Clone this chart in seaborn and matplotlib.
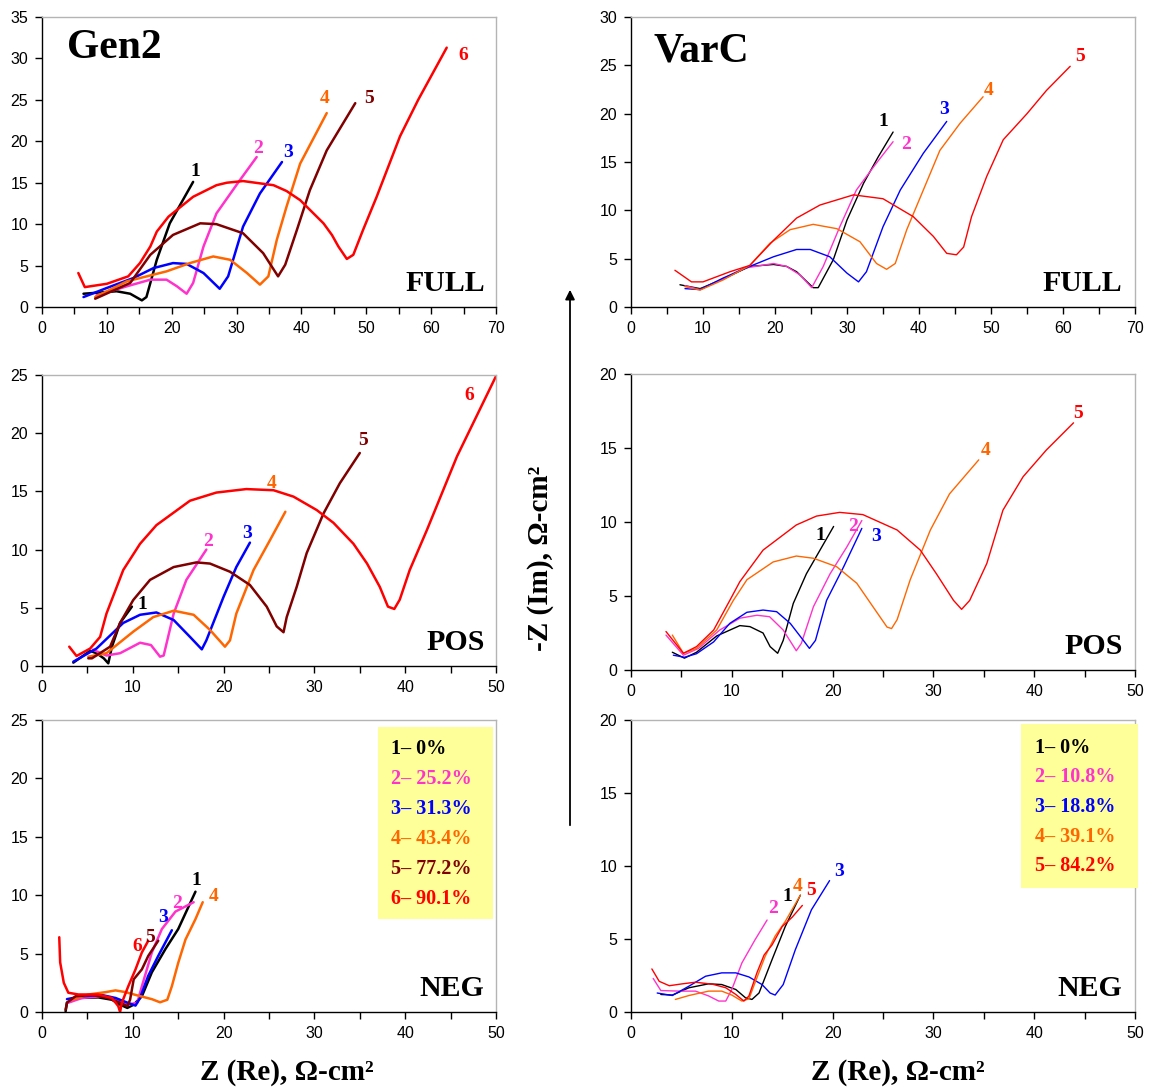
import numpy as np
import pandas as pd
import matplotlib
matplotlib.use("Agg")
import matplotlib.pyplot as plt
import seaborn as sns
from matplotlib.patches import Rectangle, FancyArrowPatch

# ---------------- data: Gen2 FULL ----------------
g2f_1_x = [6.4, 11.5, 13.6, 15.4, 16.1, 17.7, 19.7, 23.3]
g2f_1_y = [1.6, 1.9, 1.6, 0.8, 1.2, 5.7, 10.1, 15.1]
g2f_2_x = [8.4, 13.1, 16.7, 19.2, 20.8, 22.3, 23.3, 24.9, 26.9, 30.5, 33.1]
g2f_2_y = [1.4, 2.5, 3.3, 3.3, 2.5, 1.6, 2.9, 7.3, 11.3, 15.3, 18.1]
g2f_3_x = [6.4, 10.0, 14.1, 17.2, 20.2, 22.3, 24.9, 27.4, 28.7, 31.0, 33.6, 37.0]
g2f_3_y = [1.2, 2.3, 3.5, 4.7, 5.3, 5.2, 4.1, 2.2, 3.7, 9.7, 13.7, 17.5]
g2f_4_x = [8.2, 13.1, 19.2, 22.8, 26.4, 29.0, 31.6, 33.6, 34.9, 36.2, 37.7, 39.8, 43.9]
g2f_4_y = [1.2, 3.1, 4.3, 5.3, 6.1, 5.7, 4.1, 2.7, 3.7, 8.1, 12.1, 17.3, 23.4]
g2f_5_x = [8.2, 13.6, 16.7, 20.2, 24.4, 26.9, 31.0, 34.1, 36.4, 37.5, 39.3, 41.3, 43.9, 48.3]
g2f_5_y = [1.0, 2.9, 6.3, 8.7, 10.1, 10.0, 8.9, 6.5, 3.7, 5.1, 9.3, 14.1, 18.9, 24.6]
g2f_6_x = [5.6, 6.6, 10.0, 13.3, 15.1, 16.7, 17.7, 19.5, 23.3, 26.9, 28.5, 31.0, 35.7, 37.7,
           39.8, 43.4, 44.7, 45.7, 47.0, 48.0, 49.5, 51.6, 55.2, 58.0, 62.4]
g2f_6_y = [4.1, 2.4, 2.8, 3.7, 5.3, 7.3, 9.1, 10.9, 13.3, 14.7, 15.0, 15.2, 14.7, 14.0,
           12.9, 10.1, 8.7, 7.3, 5.8, 6.3, 9.3, 13.3, 20.6, 25.0, 31.3]

# ---------------- data: VarC FULL ----------------
vcf_1_x = [6.8, 9.6, 12.8, 16.5, 19.8, 21.6, 23.0, 25.3, 26.0, 28.1, 30.0, 32.3, 34.35, 36.4]
vcf_1_y = [2.3, 1.9, 2.9, 4.2, 4.4, 4.2, 3.65, 2.0, 2.0, 4.9, 9.0, 12.8, 15.55, 18.1]
vcf_2_x = [7.5, 9.6, 12.8, 15.6, 19.8, 21.6, 23.5, 25.1, 26.7, 29.0, 31.3, 34.1, 36.4]
vcf_2_y = [2.2, 1.8, 2.9, 4.0, 4.5, 4.2, 3.3, 2.0, 4.2, 8.3, 12.1, 14.9, 17.1]
vcf_3_x = [7.5, 9.6, 12.8, 16.5, 19.8, 23.0, 24.9, 27.6, 30.0, 31.6, 32.7, 35.0, 37.4, 40.6, 43.85]
vcf_3_y = [1.9, 1.8, 3.0, 4.2, 5.2, 5.95, 5.95, 5.2, 3.5, 2.6, 3.65, 8.3, 12.1, 15.9, 19.2]
vcf_4_x = [7.5, 9.6, 12.8, 16.5, 19.3, 22.1, 25.3, 28.6, 31.8, 34.1, 35.5, 36.7, 38.3, 40.6,
           42.9, 45.7, 48.9]
vcf_4_y = [2.1, 1.75, 2.8, 4.3, 6.6, 8.0, 8.55, 8.1, 6.75, 4.5, 3.9, 4.5, 8.0, 12.1,
           16.2, 19.0, 21.75]
vcf_5_x = [6.1, 8.4, 10.0, 13.75, 16.5, 19.8, 23.0, 26.25, 30.9, 35.0, 39.2, 42.0, 43.85, 45.2,
           46.2, 47.3, 49.4, 51.7, 55.0, 57.7, 61.0]
vcf_5_y = [3.8, 2.6, 2.6, 3.65, 4.3, 6.9, 9.2, 10.55, 11.6, 11.2, 9.35, 7.3, 5.55, 5.4,
           6.2, 9.35, 13.5, 17.3, 20.0, 22.4, 24.9]

# ---------------- data: Gen2 POS ----------------
g2p_1_x = [3.45, 5.3, 6.0, 6.8, 7.3, 7.7, 8.6, 9.9]
g2p_1_y = [0.29, 1.3, 1.1, 0.66, 0.23, 1.66, 3.7, 5.1]
g2p_2_x = [5.6, 7.1, 8.6, 10.8, 12.0, 13.0, 13.4, 14.5, 15.9, 18.1]
g2p_2_y = [1.4, 0.9, 1.1, 2.0, 1.8, 0.8, 0.9, 4.5, 7.4, 10.0]
g2p_3_x = [3.45, 6.0, 8.95, 10.8, 12.6, 14.5, 16.3, 17.6, 18.1, 20.0, 21.4, 22.9]
g2p_3_y = [0.37, 1.5, 3.7, 4.4, 4.6, 3.95, 2.5, 1.43, 2.2, 5.95, 8.5, 10.6]
g2p_4_x = [5.1, 7.1, 10.05, 12.25, 14.5, 16.7, 18.5, 20.15, 20.7, 21.4, 23.3, 25.1, 26.8]
g2p_4_y = [0.8, 1.1, 2.95, 4.2, 4.75, 4.4, 3.1, 1.66, 2.2, 4.5, 8.25, 10.8, 13.25]
g2p_5_x = [5.1, 5.5, 7.5, 8.6, 10.05, 11.9, 14.5, 17.0, 18.5, 20.7, 22.9, 24.75, 25.85, 26.6,
           26.95, 28.05, 29.15, 31.0, 32.8, 35.0]
g2p_5_y = [0.66, 0.66, 1.66, 3.7, 5.67, 7.4, 8.5, 8.9, 8.8, 8.1, 6.96, 5.1, 3.4, 2.9,
           4.2, 6.8, 9.7, 13.1, 15.7, 18.3]
g2p_6_x = [3.0, 3.8, 5.3, 6.4, 7.1, 8.95, 10.8, 12.6, 16.3, 19.2, 22.5, 25.5, 27.7, 30.25,
           32.1, 34.3, 35.8, 37.2, 38.1, 38.8, 39.4, 40.5, 42.4, 45.7, 50.0]
g2p_6_y = [1.66, 0.86, 1.5, 2.5, 4.5, 8.25, 10.5, 12.1, 14.2, 14.9, 15.2, 15.1, 14.55, 13.4,
           12.3, 10.5, 8.8, 6.8, 5.1, 4.9, 5.7, 8.25, 11.7, 18.0, 24.9]

# ---------------- data: VarC POS ----------------
vcp_1_x = [4.1, 5.3, 6.5, 8.5, 10.8, 11.8, 13.1, 13.8, 14.55, 15.1, 16.1, 17.4, 18.75, 20.1]
vcp_1_y = [1.2, 0.8, 1.2, 2.3, 3.0, 2.93, 2.5, 1.58, 1.13, 2.0, 4.5, 6.5, 8.1, 9.7]
vcp_2_x = [3.47, 5.2, 6.7, 8.8, 10.8, 12.5, 13.75, 15.1, 16.4, 16.9, 18.1, 19.75, 21.4, 22.9]
vcp_2_y = [2.36, 1.0, 1.46, 2.7, 3.5, 3.7, 3.6, 2.7, 1.3, 1.8, 4.28, 6.5, 8.3, 10.1]
vcp_3_x = [4.2, 5.3, 6.5, 8.2, 9.8, 11.5, 13.1, 14.45, 15.8, 17.1, 17.7, 18.3, 19.4, 21.1, 22.9]
vcp_3_y = [1.0, 0.86, 1.1, 1.9, 3.15, 3.9, 4.05, 3.94, 3.15, 2.0, 1.46, 2.0, 4.7, 6.98, 9.57]
vcp_4_x = [4.1, 5.2, 6.5, 8.5, 10.15, 11.5, 14.1, 16.4, 18.1, 20.4, 22.4, 24.0, 25.4, 25.85,
           26.4, 27.7, 29.7, 31.6, 34.5]
vcp_4_y = [2.36, 1.13, 1.46, 2.7, 4.7, 6.1, 7.3, 7.7, 7.55, 6.98, 5.86, 4.28, 2.9, 2.8,
           3.4, 6.1, 9.46, 11.9, 14.2]
vcp_5_x = [3.47, 5.2, 6.5, 8.2, 9.8, 10.8, 13.1, 16.4, 18.4, 20.7, 23.0, 26.4, 28.7, 30.3,
           32.0, 32.8, 33.6, 35.3, 36.9, 38.9, 41.2, 43.9]
vcp_5_y = [2.6, 1.13, 1.58, 2.7, 4.7, 5.97, 8.1, 9.8, 10.4, 10.65, 10.5, 9.46, 8.1, 6.5,
           4.7, 4.1, 4.7, 7.2, 10.8, 13.06, 14.86, 16.7]

# ---------------- data: Gen2 NEG ----------------
g2n_1_x = [2.6, 2.75, 4.0, 6.2, 7.7, 8.6, 9.4, 10.1, 11.0, 12.1, 13.6, 15.0, 16.9]
g2n_1_y = [0.06, 0.8, 1.2, 1.25, 1.05, 0.63, 0.35, 0.63, 1.35, 3.4, 5.4, 7.1, 10.3]
g2n_2_x = [2.9, 4.4, 6.6, 8.4, 9.5, 10.5, 11.0, 12.1, 13.2, 14.7, 16.7]
g2n_2_y = [0.8, 1.2, 1.35, 1.05, 0.63, 0.8, 2.2, 5.1, 7.1, 8.6, 9.4]
g2n_3_x = [2.75, 4.4, 6.6, 8.1, 9.4, 10.3, 10.8, 11.7, 12.8, 14.3]
g2n_3_y = [1.1, 1.35, 1.45, 1.2, 0.8, 0.55, 1.2, 3.1, 4.8, 7.0]
g2n_4_x = [3.3, 5.1, 7.0, 8.1, 9.2, 10.6, 12.1, 13.0, 13.8, 14.3, 15.0, 15.8, 16.9, 17.7]
g2n_4_y = [1.05, 1.5, 1.7, 1.85, 1.7, 1.4, 1.1, 0.83, 1.05, 2.2, 4.2, 6.2, 7.95, 9.4]
g2n_5_x = [2.6, 2.75, 3.7, 5.5, 7.3, 8.6, 9.4, 9.7, 10.1, 11.0, 11.7, 12.8]
g2n_5_y = [0.2, 0.8, 1.35, 1.45, 1.2, 0.8, 0.5, 1.05, 2.8, 3.65, 4.8, 6.1]
g2n_6_x = [1.9, 2.0, 2.4, 2.9, 4.0, 6.2, 7.7, 8.4, 8.6, 8.8, 9.5, 10.3, 11.0, 11.7]
g2n_6_y = [6.4, 4.25, 2.5, 1.65, 1.5, 1.5, 1.2, 0.5, 0.0, 0.8, 2.2, 3.65, 5.1, 6.1]

# ---------------- data: VarC NEG ----------------
vcn_1_x = [2.96, 4.1, 5.75, 7.7, 9.0, 10.4, 11.35, 12.0, 12.7, 14.0, 15.3, 16.8]
vcn_1_y = [1.2, 1.16, 1.66, 1.93, 1.88, 1.54, 0.98, 0.86, 1.3, 3.6, 5.85, 8.0]
vcn_2_x = [2.2, 2.96, 4.8, 6.4, 7.7, 8.7, 9.4, 10.0, 11.0, 12.3, 13.5]
vcn_2_y = [2.3, 1.47, 1.43, 1.43, 1.1, 0.75, 0.75, 1.54, 3.36, 4.94, 6.3]
vcn_3_x = [2.6, 4.1, 5.75, 7.4, 9.0, 10.4, 11.7, 13.0, 13.8, 14.3, 15.1, 16.3, 17.9, 19.7]
vcn_3_y = [1.3, 1.13, 1.77, 2.45, 2.68, 2.68, 2.4, 1.88, 1.3, 1.16, 1.88, 4.26, 7.0, 9.0]
vcn_4_x = [4.4, 5.75, 7.7, 9.0, 10.0, 11.0, 11.7, 12.3, 13.3, 14.3, 15.3, 16.8]
vcn_4_y = [0.86, 1.13, 1.43, 1.43, 1.16, 0.75, 0.9, 2.0, 3.8, 5.2, 6.2, 8.0]
vcn_5_x = [2.07, 2.8, 3.8, 5.1, 6.4, 8.1, 9.4, 10.4, 11.2, 11.7, 12.5, 13.2, 14.0, 15.0, 16.0, 17.0]
vcn_5_y = [2.95, 2.1, 1.8, 1.93, 2.04, 1.9, 1.66, 1.2, 0.75, 1.1, 2.7, 3.9, 4.6, 5.85, 6.5, 7.3]

# curve label positions (data coords)
g2f_lab = {"1": (23.7, 16.4), "2": (33.3, 19.1), "3": (37.9, 18.6), "4": (43.6, 25.2), "5": (50.4, 25.2), "6": (64.9, 30.4)}
vcf_lab = {"1": (35.1, 19.2), "2": (38.2, 16.8), "3": (43.5, 20.4), "4": (49.7, 22.4), "5": (62.4, 25.9)}
g2p_lab = {"1": (11.0, 5.3), "2": (18.3, 10.7), "3": (22.6, 11.4), "4": (25.3, 15.7), "5": (35.4, 19.4), "6": (47.1, 23.2)}
vcp_lab = {"1": (18.8, 9.1), "2": (22.0, 9.7), "3": (24.3, 9.05), "4": (35.2, 14.8), "5": (44.4, 17.3)}
g2n_lab = {"1": (17.0, 11.3), "2": (14.9, 9.3), "3": (13.3, 8.05), "4": (18.9, 9.9), "5": (11.9, 6.4), "6": (10.5, 5.6)}
vcn_lab = {"1": (15.5, 7.9), "2": (14.1, 7.1), "3": (20.6, 9.6), "4": (16.5, 8.6), "5": (17.9, 8.3)}

gen2_legend = ["1\u2013 0%", "2\u2013 25.2%", "3\u2013 31.3%", "4\u2013 43.4%", "5\u2013 77.2%", "6\u2013 90.1%"]
varc_legend = ["1\u2013 0%", "2\u2013 10.8%", "3\u2013 18.8%", "4\u2013 39.1%", "5\u2013 84.2%"]

gen2_colors = {"1": "#000000", "2": "#FF33CC", "3": "#0000FF", "4": "#FF6600", "5": "#800000", "6": "#FF0000"}
varc_colors = {"1": "#000000", "2": "#FF33CC", "3": "#0000FF", "4": "#FF6600", "5": "#FF0000"}

# ---------------- figure ----------------
sns.set_style("white")
plt.rcParams["font.family"] = ["Liberation Sans", "DejaVu Sans"]
plt.rcParams["text.color"] = "black"
plt.rcParams["xtick.color"] = "black"
plt.rcParams["ytick.color"] = "black"
plt.rcParams["xtick.labelcolor"] = "black"
plt.rcParams["ytick.labelcolor"] = "black"

W, H = 1151, 1087
fig = plt.figure(figsize=(W / 100, H / 100), dpi=100)
fig.patch.set_facecolor("white")

SERIF = ["Liberation Serif", "DejaVu Serif"]


def ax_at(x0, x1, ytop, ybot):
    return fig.add_axes([x0 / W, 1 - ybot / H, (x1 - x0) / W, (ybot - ytop) / H])


def frame(series):
    rows = []
    for name, xs, ys in series:
        for i, (a, b) in enumerate(zip(xs, ys)):
            rows.append((name, i, a, b))
    return pd.DataFrame(rows, columns=["curve", "order", "x", "y"])


def panel(ax, series, colors, labels, xmax, ymax, lw, tag):
    df = frame(series)
    sns.lineplot(data=df, x="x", y="y", hue="curve", units="curve", estimator=None,
                 sort=False, palette=colors, linewidth=lw, legend=False, ax=ax)
    ax.set_xlim(0, xmax)
    ax.set_ylim(0, ymax)
    ax.set_xticks(np.arange(0, xmax + 1, 10))
    ax.set_xticks(np.arange(5, xmax, 10), minor=True)
    ax.set_yticks(np.arange(0, ymax + 1, 5))
    ax.tick_params(which="both", direction="out", length=5, width=1, color="black",
                   labelsize=11.5, pad=5, bottom=True, left=True, labelcolor="black")
    ax.set_xlabel("")
    ax.set_ylabel("")
    for s in ["left", "bottom"]:
        ax.spines[s].set_color("black")
        ax.spines[s].set_linewidth(1.0)
    for s in ["top", "right"]:
        ax.spines[s].set_color("#B4B4B4")
        ax.spines[s].set_linewidth(1.0)
    for k, (lx, ly) in labels.items():
        ax.text(lx, ly, k, color=colors[k], fontsize=14, fontweight="bold",
                family=SERIF, ha="center", va="center")
    ax.text(0.975, 0.08, tag, transform=ax.transAxes, fontsize=21.5, fontweight="bold",
            family=SERIF, ha="right", va="center")


# Gen2 column
a1 = ax_at(42, 496, 17, 307)
panel(a1, [("1", g2f_1_x, g2f_1_y), ("2", g2f_2_x, g2f_2_y), ("3", g2f_3_x, g2f_3_y),
           ("4", g2f_4_x, g2f_4_y), ("5", g2f_5_x, g2f_5_y), ("6", g2f_6_x, g2f_6_y)],
      gen2_colors, g2f_lab, 70, 35, 1.8, "FULL")
a2 = ax_at(42, 496, 375, 666)
panel(a2, [("1", g2p_1_x, g2p_1_y), ("2", g2p_2_x, g2p_2_y), ("3", g2p_3_x, g2p_3_y),
           ("4", g2p_4_x, g2p_4_y), ("5", g2p_5_x, g2p_5_y), ("6", g2p_6_x, g2p_6_y)],
      gen2_colors, g2p_lab, 50, 25, 1.8, "POS")
a3 = ax_at(42, 496, 720, 1012)
panel(a3, [("1", g2n_1_x, g2n_1_y), ("2", g2n_2_x, g2n_2_y), ("3", g2n_3_x, g2n_3_y),
           ("4", g2n_4_x, g2n_4_y), ("5", g2n_5_x, g2n_5_y), ("6", g2n_6_x, g2n_6_y)],
      gen2_colors, g2n_lab, 50, 25, 1.8, "NEG")

# VarC column
b1 = ax_at(631, 1135, 17, 307)
panel(b1, [("1", vcf_1_x, vcf_1_y), ("2", vcf_2_x, vcf_2_y), ("3", vcf_3_x, vcf_3_y),
           ("4", vcf_4_x, vcf_4_y), ("5", vcf_5_x, vcf_5_y)],
      varc_colors, vcf_lab, 70, 30, 1.0, "FULL")
b2 = ax_at(631, 1135, 374, 670)
panel(b2, [("1", vcp_1_x, vcp_1_y), ("2", vcp_2_x, vcp_2_y), ("3", vcp_3_x, vcp_3_y),
           ("4", vcp_4_x, vcp_4_y), ("5", vcp_5_x, vcp_5_y)],
      varc_colors, vcp_lab, 50, 20, 1.0, "POS")
b3 = ax_at(631, 1135, 720, 1012)
panel(b3, [("1", vcn_1_x, vcn_1_y), ("2", vcn_2_x, vcn_2_y), ("3", vcn_3_x, vcn_3_y),
           ("4", vcn_4_x, vcn_4_y), ("5", vcn_5_x, vcn_5_y)],
      varc_colors, vcn_lab, 50, 20, 1.0, "NEG")


def ftext(px, py, s, **kw):
    fig.text(px / W, 1 - py / H, s, **kw)


# titles
ftext(67, 48, "Gen2", fontsize=30, fontweight="bold", family=SERIF, ha="left", va="center")
ftext(654, 51, "VarC", fontsize=30, fontweight="bold", family=SERIF, ha="left", va="center")


# legend boxes
def legbox(x0, y0, w, h, lines, colors, ystart, step, xtext):
    fig.patches.append(Rectangle((x0 / W, 1 - (y0 + h) / H), w / W, h / H,
                                 transform=fig.transFigure, facecolor="#FFFF99",
                                 edgecolor="none", zorder=5))
    for i, s in enumerate(lines):
        key = s[0]
        ftext(xtext, ystart + i * step, s, fontsize=14.5, fontweight="bold", family=SERIF,
              color=colors[key], ha="left", va="center", zorder=6)


legbox(378, 727, 115, 192, gen2_legend, gen2_colors, 749, 30, 391)
legbox(1021, 724, 117, 164, varc_legend, varc_colors, 748, 29.5, 1035)

# axis labels
ftext(287, 1072, "Z (Re), \u03a9-cm\u00b2", fontsize=21, fontweight="bold", family=SERIF,
      ha="center", va="center")
ftext(898, 1072, "Z (Re), \u03a9-cm\u00b2", fontsize=21, fontweight="bold", family=SERIF,
      ha="center", va="center")
ftext(541, 558, "-Z (Im), \u03a9-cm\u00b2", fontsize=21, fontweight="bold", family=SERIF,
      ha="center", va="center", rotation=90)

# vertical arrow
arr = FancyArrowPatch((570 / W, 1 - 828 / H), (570 / W, 1 - 287 / H),
                      transform=fig.transFigure, arrowstyle="-|>", mutation_scale=14,
                      color="black", linewidth=1.3)
fig.patches.append(arr)

fig.savefig("out.png", dpi=100, facecolor="white")
